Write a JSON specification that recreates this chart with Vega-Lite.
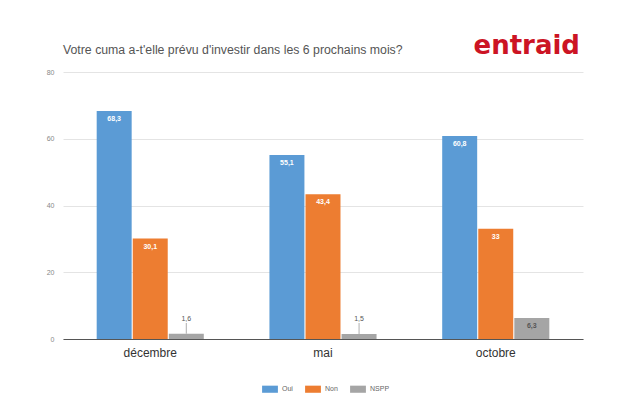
{
  "$schema": "https://vega.github.io/schema/vega-lite/v6.json",
  "width": 520,
  "height": 267,
  "autosize": {"type": "none"},
  "padding": {"left": 63, "top": 72, "right": 37, "bottom": 69},
  "background": "white",
  "config": {
    "font": "Liberation Sans",
    "view": {"stroke": null},
    "locale": {"number": {"decimal": ",", "thousands": " ", "grouping": [3], "currency": ["", " €"]}}
  },
  "title": {
    "text": "Votre cuma a-t'elle prévu d'investir dans les 6 prochains mois?",
    "anchor": "start",
    "frame": "group",
    "fontSize": 12.3,
    "fontWeight": "normal",
    "color": "#555555",
    "offset": -23
  },
  "data": {
    "values": [
      {"mois": "décembre", "reponse": "Oui", "valeur": 68.3},
      {"mois": "décembre", "reponse": "Non", "valeur": 30.1},
      {"mois": "décembre", "reponse": "NSPP", "valeur": 1.6},
      {"mois": "mai", "reponse": "Oui", "valeur": 55.1},
      {"mois": "mai", "reponse": "Non", "valeur": 43.4},
      {"mois": "mai", "reponse": "NSPP", "valeur": 1.5},
      {"mois": "octobre", "reponse": "Oui", "valeur": 60.8},
      {"mois": "octobre", "reponse": "Non", "valeur": 33},
      {"mois": "octobre", "reponse": "NSPP", "valeur": 6.3}
    ]
  },
  "encoding": {
    "x": {
      "field": "mois",
      "type": "nominal",
      "sort": ["décembre", "mai", "octobre"],
      "scale": {"paddingInner": 0.38, "paddingOuter": 0.195},
      "axis": {
        "title": null,
        "labelAngle": 0,
        "labelFontSize": 12,
        "labelColor": "#333333",
        "labelPadding": 8,
        "ticks": false,
        "domain": true,
        "domainColor": "#555555",
        "domainWidth": 1
      }
    },
    "xOffset": {
      "field": "reponse",
      "type": "nominal",
      "sort": ["Oui", "Non", "NSPP"],
      "scale": {"paddingInner": 0.03}
    }
  },
  "layer": [
    {
      "mark": {"type": "bar"},
      "encoding": {
        "y": {
          "field": "valeur",
          "type": "quantitative",
          "scale": {"domain": [0, 80]},
          "axis": {
            "title": null,
            "values": [0, 20, 40, 60, 80],
            "labelFontSize": 7,
            "labelColor": "#888888",
            "labelPadding": 9,
            "ticks": false,
            "domain": false,
            "gridColor": "#e4e4e4"
          }
        },
        "color": {
          "field": "reponse",
          "type": "nominal",
          "sort": ["Oui", "Non", "NSPP"],
          "scale": {"domain": ["Oui", "Non", "NSPP"], "range": ["#5b9bd5", "#ed7d31", "#a5a5a5"]},
          "legend": {
            "title": null,
            "orient": "none",
            "legendX": 199,
            "legendY": 309,
            "direction": "horizontal",
            "labelFontSize": 7,
            "labelColor": "#666666",
            "symbolType": "M-1,-0.45H1V0.45H-1Z",
            "symbolSize": 250,
            "symbolStrokeWidth": 0,
            "columnPadding": 12
          }
        }
      }
    },
    {
      "transform": [{"filter": "datum.valeur >= 5"}],
      "mark": {"type": "text", "baseline": "top", "dy": 4, "fontSize": 7, "fontWeight": "bold"},
      "encoding": {
        "y": {"field": "valeur", "type": "quantitative"},
        "text": {"field": "valeur", "type": "quantitative", "format": ".1~f"},
        "color": {"condition": {"test": "datum.reponse == 'NSPP'", "value": "#555555"}, "value": "white"}
      }
    },
    {
      "transform": [{"filter": "datum.valeur < 5"}],
      "mark": {"type": "rule", "color": "#999999", "strokeWidth": 0.8},
      "encoding": {
        "y": {"field": "valeur", "type": "quantitative"},
        "y2": {"datum": 4.8}
      }
    },
    {
      "transform": [{"filter": "datum.valeur < 5"}],
      "mark": {"type": "text", "baseline": "alphabetic", "dy": -13, "fontSize": 7, "color": "#555555"},
      "encoding": {
        "y": {"field": "valeur", "type": "quantitative"},
        "text": {"field": "valeur", "type": "quantitative", "format": ".1~f"}
      }
    },
    {
      "data": {"values": [{"logo": "entraid"}]},
      "mark": {"type": "text", "font": "DejaVu Sans", "fontWeight": "bold", "fontSize": 26, "color": "#cc1424", "dx": 31, "align": "center", "baseline": "alphabetic", "clip": false},
      "encoding": {
        "x": {"datum": "octobre"},
        "y": {"datum": 85.3},
        "xOffset": null,
        "text": {"field": "logo"}
      }
    }
  ]
}
